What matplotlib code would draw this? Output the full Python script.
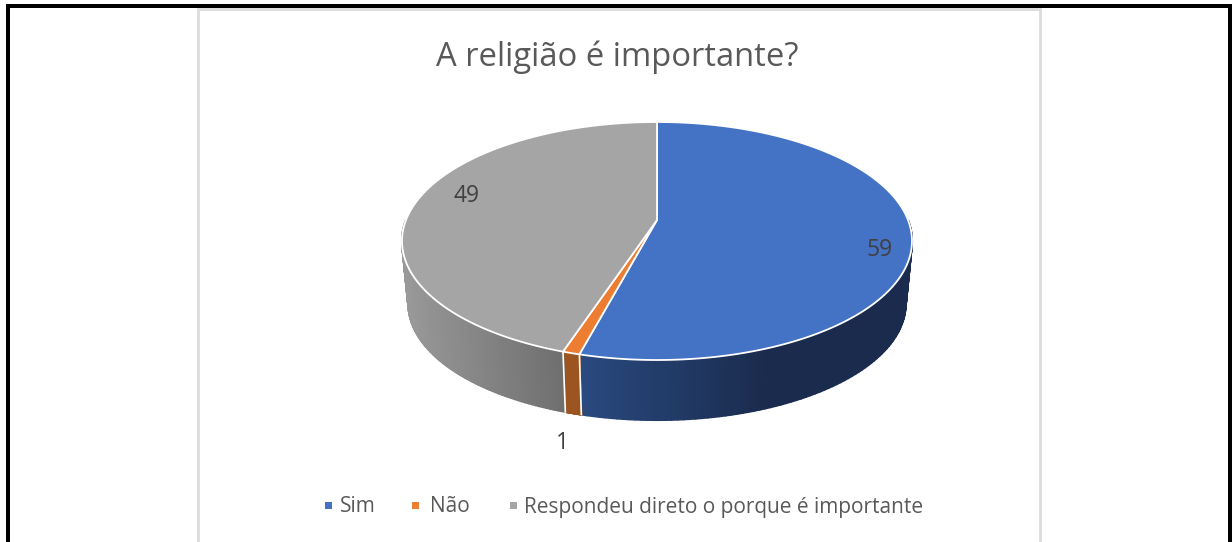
import numpy as np
import matplotlib
matplotlib.use("Agg")
import matplotlib.pyplot as plt
from matplotlib.collections import PolyCollection
from matplotlib.patches import Rectangle

title = "A religião é importante?"
categories = ["Sim", "Não", "Respondeu direto o porque é importante"]
values = [59, 1, 49]
colors = ["#4472c4", "#ed7d31", "#a5a5a5"]
wall_light = ["#2a4a80", "#9c5520", "#999999"]
wall_dark = ["#1a2b4d", "#9c5520", "#6f6f6f"]
text_color = "#595959"

# pie geometry in pixels
CX, CY = 657, 220
HALF_W, HALF_H, PERSP = 251, 115.3, 0.1765
DEPTH_Y, DEPTH_SCALE = 63.5, 0.975


def project(theta, scale=1.0, dy=0.0):
    # theta runs clockwise from the top of the pie
    u, v = np.sin(theta), np.cos(theta)
    d = 1 + PERSP * v
    return CX + scale * HALF_W * u / d, CY + dy - scale * HALF_H * v / d


def mix(c1, c2, t):
    a = np.array(matplotlib.colors.to_rgb(c1))
    b = np.array(matplotlib.colors.to_rgb(c2))
    return a + (b - a) * t


fig = plt.figure(figsize=(12.32, 5.42), dpi=100)
ax = fig.add_axes([0, 0, 1, 1])
ax.set_xlim(0, 1232)
ax.set_ylim(542, 0)
ax.axis("off")

# chart box and screenshot frame
ax.add_patch(Rectangle((198, 9), 842, 540, fc="white", ec="#dcdcdc", lw=2.0))
for rect in [(6, 4, 4, 540), (6, 4, 1226, 4), (1228, 4, 4, 540)]:
    ax.add_patch(Rectangle(rect[:2], rect[2], rect[3], fc="black", ec="none", zorder=5))

edges = 2 * np.pi * np.cumsum([0] + values) / sum(values)

# side wall, only the part facing the viewer
for i in range(len(values)):
    start, end = edges[i], edges[i + 1]
    vis_start = max(start, np.pi / 2)
    vis_end = min(end, 3 * np.pi / 2)
    th = np.linspace(vis_start, vis_end, 90)
    x1, y1 = project(th)
    x2, y2 = project(th, DEPTH_SCALE, DEPTH_Y)
    polys, fcs = [], []
    for j in range(len(th) - 1):
        polys.append([(x1[j], y1[j]), (x1[j + 1], y1[j + 1]),
                      (x2[j + 1], y2[j + 1]), (x2[j], y2[j])])
        # blue goes light to dark left to right, grey the other way round
        xm = x1[j]
        if i == 0:
            t = np.clip((xm - 580) / 190, 0, 1)
        else:
            t = np.clip((xm - 402) / 161, 0, 1)
        fcs.append(mix(wall_light[i], wall_dark[i], t))
    ax.add_collection(PolyCollection(polys, facecolors=fcs, edgecolors=fcs,
                                     linewidths=1.5, zorder=2))

# white seams either side of the small slice on the wall
for e in edges[1:3]:
    x1, y1 = project(e)
    x2, y2 = project(e, DEPTH_SCALE, DEPTH_Y)
    ax.plot([x1, x2], [y1, y2], color="white", lw=1.2, zorder=3)

# top face
for i in range(len(values)):
    th = np.linspace(edges[i], edges[i + 1], 300)
    x, y = project(th)
    ax.fill(np.r_[CX, x], np.r_[CY, y], facecolor=colors[i], edgecolor="white",
            lw=1.3, joinstyle="round", zorder=4)

font = "Open Sans"
ax.text(617.5, 57, title, ha="center", va="center", fontsize=23.6,
        color=text_color, family=font, zorder=6)

label_pos = [(880, 250), (562, 443), (467, 196)]
for val, (lx, ly) in zip(values, label_pos):
    ax.text(lx, ly, str(val), ha="center", va="center", fontsize=16.5,
            color="#404040", family=font, zorder=6)

# legend
legend_x = [(325, 340), (412, 430), (510, 524)]
for name, col, (mx, tx) in zip(categories, colors, legend_x):
    ax.add_patch(Rectangle((mx, 502), 7, 7, fc=col, ec="none", zorder=6))
    ax.text(tx, 507, name, ha="left", va="center", fontsize=15,
            color=text_color, family=font, zorder=6)

fig.savefig("out.png", dpi=100)
